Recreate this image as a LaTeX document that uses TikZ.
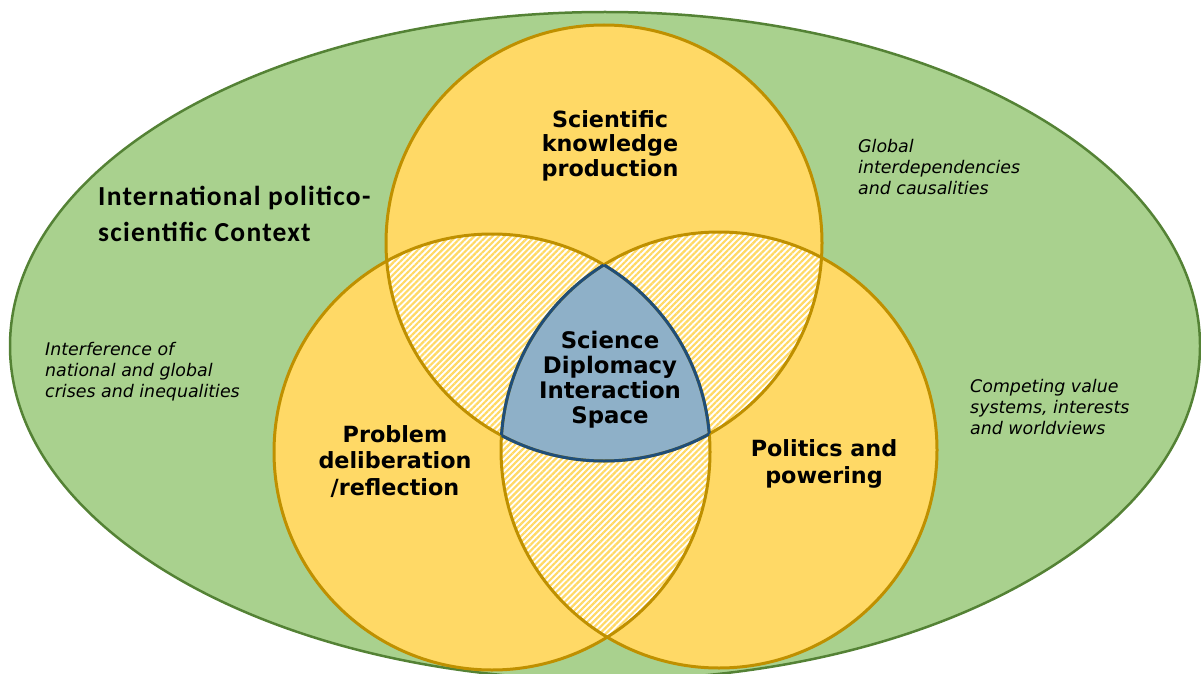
\documentclass[tikz,border=0pt]{standalone}
\usepackage{fontspec}
\usetikzlibrary{patterns.meta}
\newfontfamily\vfont{DejaVu Sans}
\newfontfamily\cfont[LetterSpace=4.5]{Carlito}
\definecolor{ctxfill}{HTML}{A9D18E}
\definecolor{ctxline}{HTML}{548235}
\definecolor{circfill}{HTML}{FFD966}
\definecolor{circline}{HTML}{BF9000}
\definecolor{sdfill}{HTML}{8EB0C8}
\definecolor{sdline}{HTML}{1F4E79}
\definecolor{hatchcol}{HTML}{FFD966}
\begin{document}
\begin{tikzpicture}[x=1pt,y=-1pt,
  circlabel/.style={font=\vfont\bfseries\fontsize{22.3}{26}\selectfont, align=center, inner sep=0pt, anchor=base},
  ctxlabel/.style={font=\cfont\bfseries\fontsize{27.5}{36}\selectfont, align=left, inner sep=0pt, anchor=base west},
  note/.style={font=\vfont\itshape\fontsize{17.4}{20.8}\selectfont, align=left, inner sep=0pt, anchor=base west},
  hatch/.style={pattern={Lines[angle=45,distance=4.3pt,line width=2.2pt]}, pattern color=hatchcol},
  circborder/.style={draw=circline, line width=3pt},
  sdborder/.style={draw=sdline, line width=3pt}]
\useasboundingbox (0,0) rectangle (1201,674);
\def\rad{218pt}
\coordinate (A) at (604,243);
\coordinate (B) at (492,452);
\coordinate (C) at (719,450);
\coordinate (E) at (605,346);
% context ellipse
\filldraw[fill=ctxfill, draw=ctxline, line width=2.5pt] (E) ellipse [x radius=595pt, y radius=334pt];
% circles
\foreach \c in {A,B,C} \fill[circfill] (\c) circle (\rad);
% pairwise lenses
\begin{scope}\clip (A) circle (\rad); \fill[white] (B) circle (\rad); \fill[hatch] (B) circle (\rad);\end{scope}
\begin{scope}\clip (A) circle (\rad); \fill[white] (C) circle (\rad); \fill[hatch] (C) circle (\rad);\end{scope}
\begin{scope}\clip (B) circle (\rad); \fill[white] (C) circle (\rad); \fill[hatch] (C) circle (\rad);\end{scope}
% triple intersection
\begin{scope}\clip (A) circle (\rad); \clip (B) circle (\rad); \fill[sdfill] (C) circle (\rad);\end{scope}
% circle borders
\foreach \c in {A,B,C} \draw[circborder] (\c) circle (\rad);
% triple border
\begin{scope}\clip (A) circle (\rad); \clip (B) circle (\rad); \draw[sdborder] (C) circle (\rad);\end{scope}
\begin{scope}\clip (A) circle (\rad); \clip (C) circle (\rad); \draw[sdborder] (B) circle (\rad);\end{scope}
\begin{scope}\clip (B) circle (\rad); \clip (C) circle (\rad); \draw[sdborder] (A) circle (\rad);\end{scope}
% labels (anchor base = baseline of last line)
\node[circlabel, font=\vfont\bfseries\fontsize{22.3}{24.5}\selectfont] (sci) at (610,176) {Scientific\\knowledge\\production};
\node[circlabel, font=\vfont\bfseries\fontsize{22.3}{26.5}\selectfont] (prob) at (395,495) {Problem\\deliberation\\/reflection};
\node[circlabel, font=\vfont\bfseries\fontsize{22.3}{27}\selectfont] (pol) at (824,483) {Politics and\\powering};
\node[circlabel, font=\vfont\bfseries\fontsize{22.8}{24.7}\selectfont] (sd) at (610,423) {Science\\Diplomacy\\Interaction\\Space};
\node[ctxlabel] (ctx) at (98,241) {International politico-\\scientific Context};
\node[note] (glob) at (858,194) {Global\\interdependencies\\and causalities};
\node[note] (interf) at (45,397) {Interference of\\national and global\\crises and inequalities};
\node[note] (comp) at (970,434) {Competing value\\systems, interests\\and worldviews};
\end{tikzpicture}
\end{document}
